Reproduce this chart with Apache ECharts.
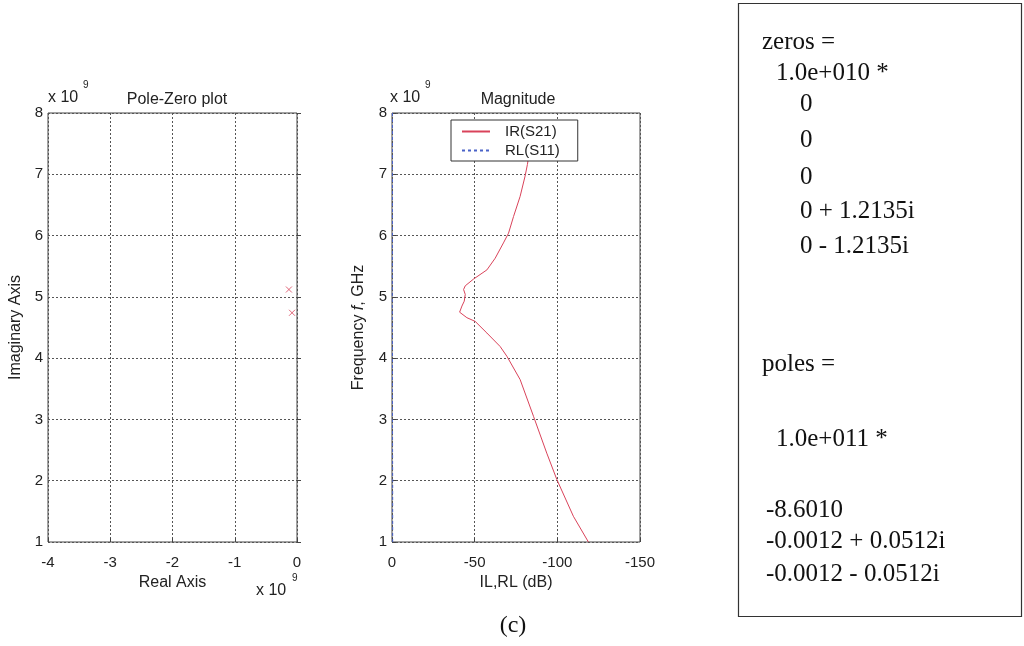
<!DOCTYPE html>
<html>
<head>
<meta charset="utf-8">
<style>
  html, body { margin: 0; padding: 0; background: #fff; }
  #chart { width: 1024px; height: 646px; }
</style>
<script src="https://cdn.jsdelivr.net/npm/echarts@6/dist/echarts.min.js"></script>
</head>
<body>
<div id="chart"></div>
<script>
// Pole locations (units of 1e9): real and imaginary parts
const poleRe = [-0.13, -0.08];
const poleIm = [5.12, 4.74];

// Magnitude response: frequency (x 1e9 Hz) and insertion loss (dB)
const freqIL = [1.0, 1.42, 2.02, 2.45, 3.05, 3.65, 4.03, 4.19, 4.41, 4.60, 4.66, 4.75, 4.85, 4.93, 5.04, 5.12, 5.18, 5.29, 5.44, 5.63, 5.88, 6.04, 6.31, 6.64, 6.97, 7.16, 7.35];
const lossIL = [-118.8, -109.7, -99.7, -93.6, -85.6, -77.5, -69.5, -65.4, -57.4, -50.3, -45.3, -40.9, -42.3, -43.7, -44.3, -43.3, -44.3, -49.3, -57.4, -62.4, -67.4, -70.5, -73.5, -77.5, -80.5, -81.9, -83.0];

// Return loss stays close to 0 dB across the band
const freqRL = [1.0, 2.0, 3.0, 4.0, 5.0, 6.0, 7.0, 8.0];
const lossRL = [-0.4, -0.4, -0.3, -0.3, -0.2, -0.3, -0.3, -0.3];

// Axis ticks
const reTicks = [-4, -3, -2, -1, 0];
const imTicks = [1, 2, 3, 4, 5, 6, 7, 8];
const dbTicks = [0, -50, -100, -150];

// Text listing on the right
const zerosLines = [
  { t: 'zeros =', x: 762, y: 42 },
  { t: '1.0e+010 *', x: 776, y: 73 },
  { t: '0', x: 800, y: 104 },
  { t: '0', x: 800, y: 140 },
  { t: '0', x: 800, y: 177 },
  { t: '0 + 1.2135i', x: 800, y: 211 },
  { t: '0 - 1.2135i', x: 800, y: 246 }
];
const polesLines = [
  { t: 'poles =', x: 762, y: 364 },
  { t: '1.0e+011 *', x: 776, y: 439 },
  { t: '-8.6010', x: 766, y: 510 },
  { t: '-0.0012 + 0.0512i', x: 766, y: 541 },
  { t: '-0.0012 - 0.0512i', x: 766, y: 574 }
];

const SANS = '"Liberation Sans", Arial, sans-serif';
const SERIF = '"Liberation Serif", "Times New Roman", serif';
const INK = '#222';

const chart = echarts.init(document.getElementById('chart'), null, { renderer: 'canvas' });

function valueAxis(extra) {
  return Object.assign({
    type: 'value',
    axisLine: { show: false },
    axisTick: { show: true, inside: true, length: 4, lineStyle: { color: '#444' } },
    axisLabel: { color: INK, fontFamily: SANS, fontSize: 15, margin: 13 },
    splitLine: { show: true, lineStyle: { color: '#555', type: [2, 2], width: 1 } },
    nameTextStyle: { color: INK, fontFamily: SANS, fontSize: 16 }
  }, extra);
}

const textItems = [];
function addText(t, x, y, size, font) {
  textItems.push({
    type: 'text', x: x, y: y,
    style: { text: t, fill: INK, font: size + 'px ' + font, verticalAlign: 'middle' }
  });
}

zerosLines.concat(polesLines).forEach(l => {
  textItems.push({
    type: 'text', x: l.x, y: l.y,
    style: { text: l.t, fill: '#111', font: '25px ' + SERIF, verticalAlign: 'middle' }
  });
});

// exponent labels
addText('x 10', 48, 98, 16, SANS);
addText('9', 83, 85, 10, SANS);
addText('x 10', 390, 98, 16, SANS);
addText('9', 425, 85, 10, SANS);
addText('x 10', 256, 591, 16, SANS);
addText('9', 292, 578, 10, SANS);

// panel caption
textItems.push({
  type: 'text', x: 513, y: 626,
  style: { text: '(c)', fill: '#111', font: '24px ' + SERIF, align: 'center', verticalAlign: 'middle' }
});

// box around the listing
textItems.push({
  type: 'rect', shape: { x: 738.5, y: 3.5, width: 283, height: 613 },
  style: { fill: 'none', stroke: '#333', lineWidth: 1.2 }
});

const option = {
  backgroundColor: '#fff',
  animation: false,
  title: [
    { text: 'Pole-Zero plot', left: 172, top: 87, textAlign: 'center',
      textStyle: { fontFamily: SANS, fontSize: 16, fontWeight: 'normal', color: INK } },
    { text: 'Magnitude', left: 513, top: 87, textAlign: 'center',
      textStyle: { fontFamily: SANS, fontSize: 16, fontWeight: 'normal', color: INK } }
  ],
  legend: {
    data: ['IR(S21)', 'RL(S11)'],
    orient: 'vertical',
    left: 451, top: 120,
    backgroundColor: '#fff',
    borderColor: '#333', borderWidth: 1,
    padding: [4, 18, 3, 10],
    itemGap: 4,
    itemWidth: 28, itemHeight: 14,
    itemStyle: { opacity: 0, borderWidth: 0 },
    textStyle: { fontFamily: SANS, fontSize: 15, color: INK, padding: [0, 0, 0, 10] }
  },
  grid: [
    { left: 48, right: 727, top: 113, bottom: 104, show: true, borderColor: '#444', borderWidth: 1 },
    { left: 392, right: 384, top: 113, bottom: 104, show: true, borderColor: '#444', borderWidth: 1 }
  ],
  xAxis: [
    valueAxis({ gridIndex: 0, min: reTicks[0], max: reTicks[reTicks.length - 1], interval: 1,
      name: 'Real Axis', nameLocation: 'middle', nameGap: 31 }),
    valueAxis({ gridIndex: 1, min: dbTicks[dbTicks.length - 1], max: dbTicks[0], interval: 50, inverse: true,
      name: 'IL,RL (dB)', nameLocation: 'middle', nameGap: 31 })
  ],
  yAxis: [
    valueAxis({ gridIndex: 0, min: imTicks[0], max: imTicks[imTicks.length - 1], interval: 1,
      axisLabel: { color: INK, fontFamily: SANS, fontSize: 15, margin: 5 },
      name: 'Imaginary Axis', nameLocation: 'middle', nameGap: 24, nameRotate: 90 }),
    valueAxis({ gridIndex: 1, min: imTicks[0], max: imTicks[imTicks.length - 1], interval: 1,
      axisLabel: { color: INK, fontFamily: SANS, fontSize: 15, margin: 5 },
      name: '{a|Frequency }{i|f}{a|, GHz}', nameLocation: 'middle', nameGap: 25, nameRotate: 90,
      nameTextStyle: {
        color: INK, fontFamily: SANS, fontSize: 16,
        rich: {
          a: { fontFamily: SANS, fontSize: 16, color: INK },
          i: { fontFamily: SANS, fontSize: 16, color: INK, fontStyle: 'italic' }
        }
      } })
  ],
  series: [
    {
      name: 'poles', type: 'scatter', xAxisIndex: 0, yAxisIndex: 0,
      symbol: 'path://M0,0L10,10M10,0L0,10', symbolSize: 6,
      itemStyle: { color: 'none', borderColor: '#d9435a', borderWidth: 1 },
      data: poleRe.map((r, i) => [r, poleIm[i]])
    },
    {
      name: 'IR(S21)', type: 'line', xAxisIndex: 1, yAxisIndex: 1,
      symbol: 'none', smooth: false,
      lineStyle: { color: '#d9435a', width: 1 },
      itemStyle: { color: '#d9435a' },
      data: lossIL.map((v, i) => [v, freqIL[i]])
    },
    {
      name: 'RL(S11)', type: 'line', xAxisIndex: 1, yAxisIndex: 1,
      symbol: 'none',
      lineStyle: { color: '#4a63c8', width: 1, type: [3, 3] },
      itemStyle: { color: '#4a63c8' },
      data: lossRL.map((v, i) => [v, freqRL[i]])
    }
  ],
  graphic: textItems
};

chart.setOption(option);
</script>
</body>
</html>
